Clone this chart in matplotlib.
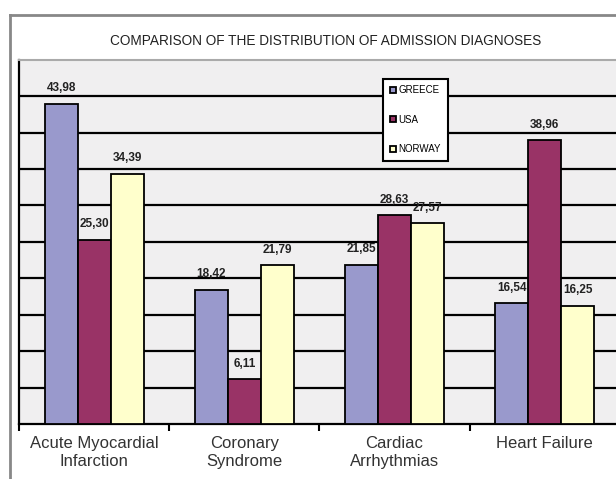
import matplotlib
matplotlib.use("Agg")
import matplotlib.pyplot as plt
import numpy as np
from matplotlib.lines import Line2D

categories = ["Acute Myocardial\nInfarction", "Coronary\nSyndrome", "Cardiac\nArrhythmias", "Heart Failure"]
series_names = ["GREECE", "USA", "NORWAY"]
greece = [43.98, 18.42, 21.85, 16.54]
usa = [25.30, 6.11, 28.63, 38.96]
norway = [34.39, 21.79, 27.57, 16.25]
colors = ["#9999cc", "#993366", "#ffffcc"]

plt.rcParams['font.family'] = ['Liberation Sans', 'DejaVu Sans']

fig = plt.figure(figsize=(6.16, 4.79), dpi=100)
fig.patch.set_facecolor("white")
ax = fig.add_axes([0.031, 0.115, 0.975, 0.76])
ax.set_facecolor("#f0eff0")

x = np.arange(len(categories))
w = 0.22
for i, (vals, c) in enumerate(zip([greece, usa, norway], colors)):
    pos = x + (i - 1) * w
    ax.bar(pos, vals, width=w, color=c, edgecolor="black", linewidth=1.3, zorder=3, label=series_names[i])
    for p, v in zip(pos, vals):
        ax.text(p, v + 1.3, f"{v:.2f}".replace(".", ","), ha="center", va="bottom",
                fontsize=8.5, fontweight="bold", zorder=4, color="#222222")

ax.set_ylim(0, 50)
ax.set_xlim(-0.5, 3.5)
ax.set_yticks(np.arange(5, 50, 5))
ax.yaxis.grid(True, color="black", linewidth=1.6, zorder=1)
ax.tick_params(axis="y", left=False, labelleft=False)
ax.set_xticks(np.arange(-0.5, 4, 1))
ax.set_xticklabels([])
ax.set_xticks(x, minor=True)
ax.set_xticklabels(categories, minor=True, fontsize=12, color="#333333", linespacing=1.25)
ax.tick_params(axis="x", which="minor", length=0, pad=9)
ax.tick_params(axis="x", which="major", length=5, width=1.5, direction="out")

for s in ["left", "bottom"]:
    ax.spines[s].set_color("black")
    ax.spines[s].set_linewidth(1.6)
ax.spines["top"].set_color("#aaaaaa")
ax.spines["top"].set_linewidth(1.5)
ax.spines["right"].set_visible(False)

leg = ax.legend(loc="upper left", bbox_to_anchor=(0.598, 0.962), fontsize=7, frameon=True,
                fancybox=False, edgecolor="black", facecolor="white", framealpha=1.0,
                handlelength=0.6, handleheight=0.6,
                labelspacing=2.0, borderpad=0.7, handletextpad=0.3)
leg.get_frame().set_linewidth(1.5)
leg.set_zorder(5)

# outer chart frame
fig.add_artist(Line2D([0.017, 0.017], [0.0, 0.969], transform=fig.transFigure, color="#888888", linewidth=2))
fig.add_artist(Line2D([0.017, 1.0], [0.969, 0.969], transform=fig.transFigure, color="#888888", linewidth=2))

fig.text(0.528, 0.914, "COMPARISON OF THE DISTRIBUTION OF ADMISSION DIAGNOSES", ha="center", va="center",
         fontsize=9.8, color="#222222")

fig.savefig("out.png", dpi=100)
